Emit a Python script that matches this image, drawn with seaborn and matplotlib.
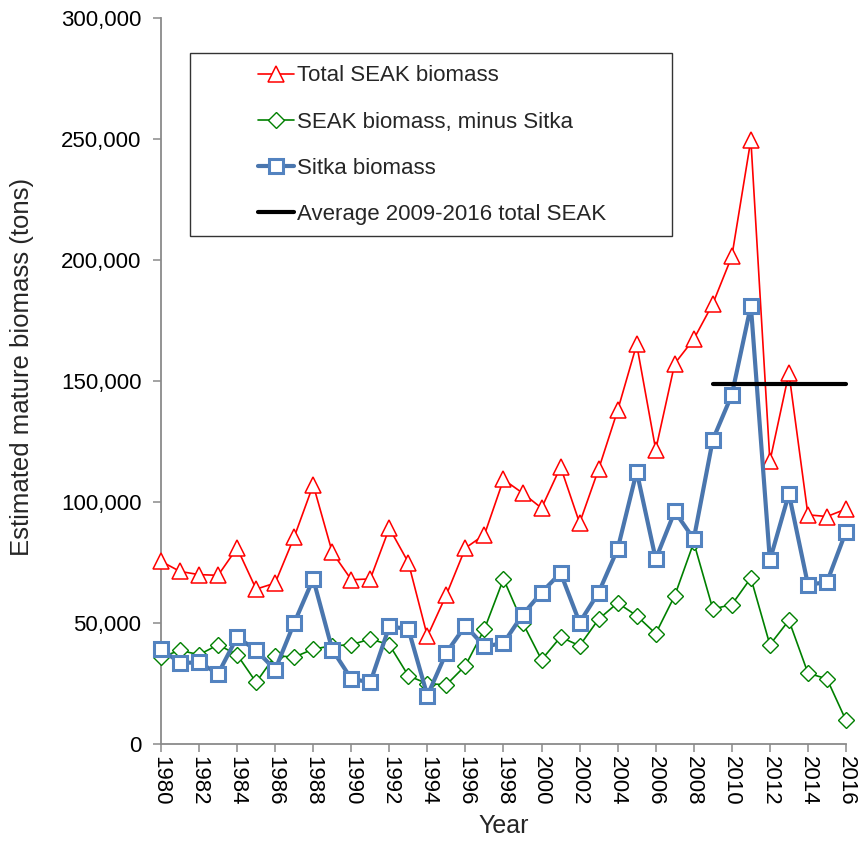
import numpy as np
import pandas as pd
import matplotlib
matplotlib.use("Agg")
import matplotlib.pyplot as plt
from matplotlib.ticker import FuncFormatter, MultipleLocator
from matplotlib.patches import Rectangle
import seaborn as sns

# Mature herring biomass estimates (tons), Southeast Alaska
years = list(range(1980, 2017))
total_seak = [75500, 71300, 70000, 69700, 81000, 64000, 66500, 85500, 107100, 79200,
              67900, 68200, 89200, 75000, 44500, 61700, 81000, 86500, 109300, 103700,
              97500, 114500, 91300, 113600, 137900, 165100, 121600, 157200, 167300, 181900,
              201500, 249700, 116800, 153300, 94700, 94000, 97100]
seak_minus_sitka = [35900, 38700, 36900, 41000, 36900, 25500, 36500, 35900, 39200, 40600,
                    41000, 43400, 41000, 28200, 24900, 24500, 32400, 47500, 68200, 50200,
                    34800, 44200, 40600, 51600, 58300, 53000, 45600, 61300, 83300, 55800,
                    57600, 68600, 41000, 51100, 29300, 26900, 9750]
sitka = [39250, 33500, 33700, 29000, 44200, 38700, 30700, 50000, 68200, 39000,
         26900, 25500, 48600, 47500, 20000, 37800, 48900, 40300, 41700, 53400,
         62600, 70700, 50200, 62600, 80600, 112600, 76400, 96100, 84700, 125700,
         144300, 181100, 75900, 103400, 65800, 66900, 87800]
avg_years = [2009, 2016]

labels = ["Total SEAK biomass", "SEAK biomass, minus Sitka", "Sitka biomass",
          "Average 2009-2016 total SEAK"]

df = pd.DataFrame({"Year": years, "total": total_seak,
                   "minus": seak_minus_sitka, "sitka": sitka})
recent = df[df["Year"] >= avg_years[0]]["total"].mean()
avg_df = pd.DataFrame({"Year": avg_years, "avg": [recent, recent]})

sns.set_style("ticks")
plt.rcParams["font.family"] = ["Liberation Sans", "DejaVu Sans"]

fig = plt.figure(figsize=(8.59, 8.44), dpi=100)
ax = fig.add_axes([161 / 859, 1 - 744 / 844, (846 - 161) / 859, (744 - 18) / 844])

sns.lineplot(data=df, x="Year", y="total", ax=ax, color="#FF0000", lw=1.2,
             marker="^", markersize=11, markerfacecolor="white",
             markeredgecolor="#FF0000", markeredgewidth=1.1, clip_on=False,
             label=labels[0], zorder=3)
sns.lineplot(data=df, x="Year", y="minus", ax=ax, color="#008000", lw=1.2,
             marker="D", markersize=8.5, markerfacecolor="white",
             markeredgecolor="#008000", markeredgewidth=1.0, clip_on=False,
             label=labels[1], zorder=4)
sns.lineplot(data=df, x="Year", y="sitka", ax=ax, color="#4A76AE", lw=3.0,
             marker="s", markersize=10.5, markerfacecolor="white",
             markeredgecolor="#5383C0", markeredgewidth=2.2, clip_on=False,
             label=labels[2], zorder=5)
sns.lineplot(data=avg_df, x="Year", y="avg", ax=ax, color="black", lw=3.0,
             label=labels[3], zorder=6, clip_on=False)

ax.set_xlim(1980, 2016)
ax.set_ylim(0, 300000)
ax.xaxis.set_major_locator(MultipleLocator(2))
ax.yaxis.set_major_locator(MultipleLocator(50000))
ax.yaxis.set_major_formatter(FuncFormatter(lambda v, p: f"{v:,.0f}"))
ax.tick_params(axis="both", colors="#8A8A8A", labelcolor="black",
               labelsize=16, length=6, width=1.1, direction="out")
ax.tick_params(axis="x", labelrotation=-90, pad=3)
ax.tick_params(axis="y", pad=8)

for side in ("top", "right"):
    ax.spines[side].set_visible(False)
for side in ("left", "bottom"):
    ax.spines[side].set_color("#8A8A8A")
    ax.spines[side].set_linewidth(1.3)

ax.set_xlabel("Year", fontsize=18, labelpad=6)
ax.set_ylabel("Estimated mature biomass (tons)", fontsize=18.5)
ax.yaxis.set_label_coords(-0.186, 0.52)

handles, hl = ax.get_legend_handles_labels()
leg = ax.legend(handles, hl, loc="upper left",
                bbox_to_anchor=(254 / 859, 1 - 61 / 844), bbox_transform=fig.transFigure,
                frameon=False, fontsize=16, handlelength=1.6, handletextpad=0.12,
                labelspacing=1.13, borderpad=0.2, borderaxespad=0)
fig.patches.append(Rectangle((190 / 859, 1 - 236 / 844), (672 - 190) / 859,
                             (236 - 53) / 844, transform=fig.transFigure,
                             fill=False, edgecolor="#333333", linewidth=1.0))

fig.savefig("out.png", dpi=100)
